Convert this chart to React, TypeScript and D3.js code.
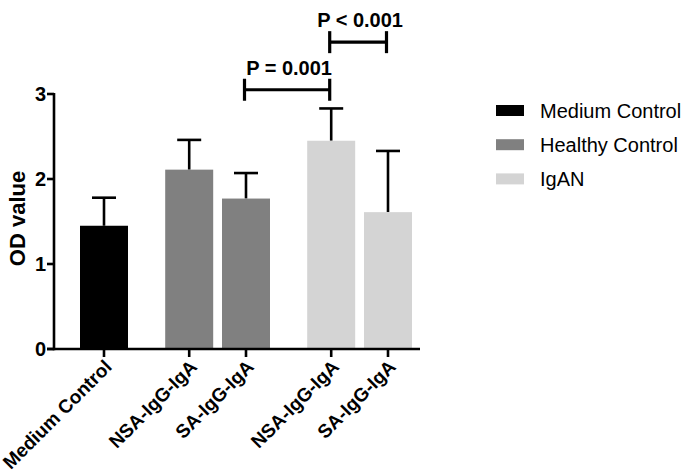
import React from "react";
import * as d3 from "d3";

const categories = ["Medium Control", "NSA-IgG-IgA", "SA-IgG-IgA", "NSA-IgG-IgA", "SA-IgG-IgA"];
const groups = ["Medium Control", "Healthy Control", "Healthy Control", "IgAN", "IgAN"];
const slots = [0, 1.5, 2.5, 4, 5];
const means = [1.45, 2.11, 1.77, 2.45, 1.61];
const errors = [0.33, 0.35, 0.3, 0.38, 0.72];
const legendGroups = ["Medium Control", "Healthy Control", "IgAN"];
const groupColors = ["#000000", "#808080", "#d4d4d4"];
const yTicks = [0, 1, 2, 3];
const compFrom = [2, 3];
const compTo = [3, 4];
const compLevel = [3.05, 3.61];
const compLabels = ["P = 0.001", "P < 0.001"];

const W = 685;
const H = 474;
const FONT = "'Liberation Sans', Arial, Helvetica, sans-serif";

export default function App() {
  const y = d3.scaleLinear().domain([0, 3]).range([349, 94]);
  const x = d3.scaleLinear().domain([0, 5]).range([104, 388]);
  const slotW = x(1) - x(0);
  const barW = slotW * 0.845;
  const color = d3.scaleOrdinal<string, string>().domain(legendGroups).range(groupColors);
  const axisX = 54;
  const axisEnd = 420;
  const capW = 24;
  const sw = 2.6;

  return (
    <svg
      width={W}
      height={H}
      style={{ position: "absolute", left: 0, top: 0, background: "#fff" }}
      fontFamily={FONT}
    >
      <rect x={0} y={0} width={W} height={H} fill="#fff" />
      {/* error bars */}
      {means.map((m, i) => {
        const cx = x(slots[i]);
        return (
          <g key={"e" + i} stroke="#000" strokeWidth={sw}>
            <line x1={cx} x2={cx} y1={y(m)} y2={y(m + errors[i])} />
            <line x1={cx - capW / 2} x2={cx + capW / 2} y1={y(m + errors[i])} y2={y(m + errors[i])} />
          </g>
        );
      })}
      {/* bars */}
      {means.map((m, i) => (
        <rect
          key={"b" + i}
          x={x(slots[i]) - barW / 2}
          y={y(m)}
          width={barW}
          height={y(0) - y(m)}
          fill={color(groups[i])}
        />
      ))}
      {/* y axis */}
      <line x1={axisX} x2={axisX} y1={y(3) - 1} y2={y(0) + 1.3} stroke="#000" strokeWidth={sw} />
      {yTicks.map((t) => (
        <g key={"yt" + t}>
          <line x1={axisX - 7} x2={axisX} y1={y(t)} y2={y(t)} stroke="#000" strokeWidth={sw} />
          <text x={axisX - 8} y={y(t)} dy="0.36em" textAnchor="end" fontSize={20} fontWeight="bold">
            {t}
          </text>
        </g>
      ))}
      <text
        transform={`translate(25, ${(y(0) + y(3)) / 2 - 3}) rotate(-90)`}
        textAnchor="middle"
        fontSize={22}
        fontWeight="bold"
      >
        OD value
      </text>
      {/* x axis */}
      <line x1={axisX - 7} x2={axisEnd} y1={y(0)} y2={y(0)} stroke="#000" strokeWidth={sw} />
      {categories.map((c, i) => {
        const cx = x(slots[i]);
        return (
          <g key={"xt" + i}>
            <line x1={cx} x2={cx} y1={y(0)} y2={y(0) + 8} stroke="#000" strokeWidth={sw} />
            <text
              transform={`translate(${cx + 9}, ${y(0) + 19}) rotate(-45)`}
              textAnchor="end"
              fontSize={19}
              fontWeight="bold"
            >
              {c}
            </text>
          </g>
        );
      })}
      {/* significance brackets */}
      {compLabels.map((lab, k) => {
        const x1 = x(slots[compFrom[k]]) - 1.5;
        const x2 = x(slots[compTo[k]]) - 1.5;
        const yy = y(compLevel[k]);
        return (
          <g key={"c" + k}>
            <g stroke="#000" strokeWidth={3.2}>
              <line x1={x1} x2={x2} y1={yy} y2={yy} />
              <line x1={x1} x2={x1} y1={yy - 11} y2={yy + 11} />
              <line x1={x2} x2={x2} y1={yy - 11} y2={yy + 11} />
            </g>
            <text x={(x1 + x2) / 2 + 2} y={yy - 15} textAnchor="middle" fontSize={20} fontWeight="bold">
              {lab}
            </text>
          </g>
        );
      })}
      {/* legend */}
      {legendGroups.map((g, i) => {
        const cy = 110.5 + i * 34.2;
        return (
          <g key={"l" + i}>
            <rect x={496} y={cy - 5.5} width={28} height={11} fill={color(g)} />
            <text x={540} y={cy} dy="0.35em" fontSize={20}>
              {g}
            </text>
          </g>
        );
      })}
    </svg>
  );
}
